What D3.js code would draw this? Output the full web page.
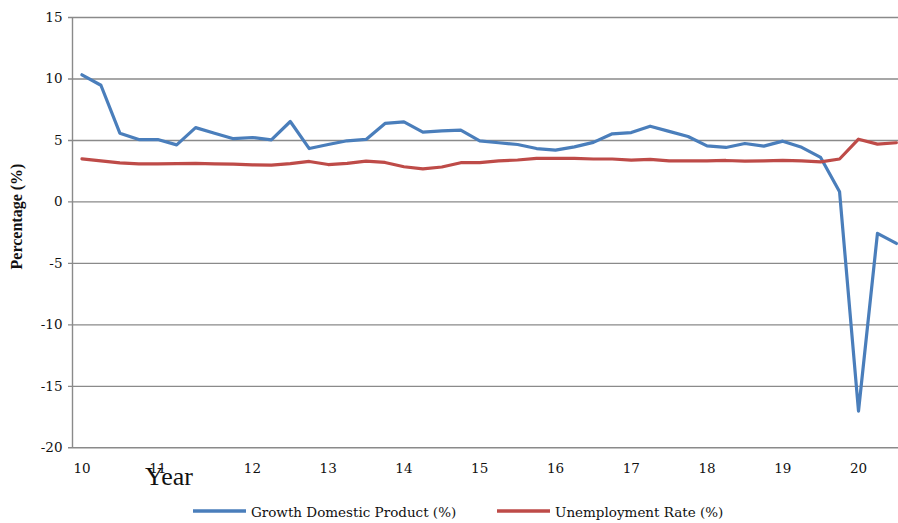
<!DOCTYPE html>
<html><head><meta charset="utf-8">
<script src="https://cdn.jsdelivr.net/npm/d3@7"></script>
<style>body{margin:0;background:#fff}svg{display:block}</style>
</head><body><svg id="c" width="898" height="523"></svg>
<script>
const categories = d3.range(44);
const xTickIndex = [0, 4, 9, 13, 17, 21, 25, 29, 33, 37, 41];
const xTickLabels = ["10","11","12","13","14","15","16","17","18","19","20"];
const gdp = [10.3, 9.45, 5.55, 5.03, 5.03, 4.6, 6.0, 5.55, 5.1, 5.2, 5.0, 6.5, 4.3, 4.63, 4.93, 5.04, 6.34, 6.47, 5.63, 5.74, 5.8, 4.93, 4.77, 4.63, 4.3, 4.17, 4.44, 4.8, 5.5, 5.6, 6.12, 5.7, 5.28, 4.52, 4.39, 4.71, 4.5, 4.9, 4.4, 3.58, 0.78, -17.05, -2.6, -3.42];
const unemp = [3.46, 3.3, 3.14, 3.06, 3.06, 3.08, 3.1, 3.06, 3.03, 2.98, 2.95, 3.08, 3.25, 3.0, 3.1, 3.27, 3.17, 2.82, 2.65, 2.8, 3.15, 3.15, 3.3, 3.37, 3.5, 3.5, 3.5, 3.45, 3.45, 3.36, 3.42, 3.3, 3.3, 3.3, 3.33, 3.27, 3.3, 3.33, 3.3, 3.22, 3.45, 5.06, 4.66, 4.77];
const yTicks = [15, 10, 5, 0, -5, -10, -15, -20];
const yTickLabels = ["15", "10", "5", "0", "-5", "-10", "-15", "-20"];
const seriesNames = ["Growth Domestic Product (%)", "Unemployment Rate (%)"];
const colors = ["#4A7EBB", "#BE4B48"];

const svg = d3.select("#c");
const mLeft = 72.5, mTop = 17, mBottom = 447.3, step = 18.94;
const x = d3.scaleBand().domain(categories).range([mLeft, mLeft + step * categories.length]);
const y = d3.scaleLinear().domain([-20, 15]).range([mBottom, mTop]);
const cx = i => x(i) + x.bandwidth() / 2;
const serif = "'DejaVu Serif', serif";

// gridlines + y axis
const yAxis = d3.axisLeft(y).tickValues(yTicks).tickSize(-(898 - mLeft)).tickSizeOuter(0).tickPadding(10)
  .tickFormat((d, i) => yTickLabels[i]);
const gy = svg.append("g").attr("transform", `translate(${mLeft},0)`).call(yAxis);
gy.select(".domain").remove();
gy.selectAll(".tick line").attr("stroke", "#8a8a8a").attr("stroke-width", 1.4).attr("x1", -4.5);
gy.selectAll(".tick text").attr("font-family", serif).attr("font-size", 13.5).attr("fill", "#111");
svg.append("line").attr("x1", mLeft).attr("x2", mLeft).attr("y1", mTop).attr("y2", mBottom)
  .attr("stroke", "#8a8a8a").attr("stroke-width", 1.4);

// x labels
const xAxis = d3.axisBottom(x).tickValues(xTickIndex).tickSize(0).tickPadding(16)
  .tickFormat((d, i) => xTickLabels[i]);
const gx = svg.append("g").attr("transform", `translate(0,${mBottom})`).call(xAxis);
gx.select(".domain").remove();
gx.selectAll(".tick text").attr("font-family", serif).attr("font-size", 13.5).attr("fill", "#111");

// lines
const line = d3.line().x((d, i) => cx(i)).y(d => y(d));
[gdp, unemp].forEach((s, k) => {
  svg.append("path").datum(s).attr("d", line).attr("fill", "none")
    .attr("stroke", colors[k]).attr("stroke-width", 3.2)
    .attr("stroke-linejoin", "round").attr("stroke-linecap", "round");
});

// axis titles
svg.append("text").attr("x", 145).attr("y", 485).attr("font-family", "'Liberation Serif', serif")
  .attr("font-size", 26).attr("fill", "#111").text("Year");
svg.append("text").attr("transform", "translate(22,216.5) rotate(-90)").attr("text-anchor", "middle")
  .attr("font-family", "'Liberation Serif', serif").attr("font-weight", "bold").attr("font-size", 16)
  .attr("fill", "#111").text("Percentage (%)");

// legend
const legendX = [193, 497];
seriesNames.forEach((n, k) => {
  svg.append("line").attr("x1", legendX[k]).attr("x2", legendX[k] + 53).attr("y1", 511).attr("y2", 511)
    .attr("stroke", colors[k]).attr("stroke-width", 3.4);
  svg.append("text").attr("x", legendX[k] + 58).attr("y", 516.5).attr("font-family", serif)
    .attr("font-size", 13.5).attr("fill", "#111").text(n);
});
</script></body></html>
